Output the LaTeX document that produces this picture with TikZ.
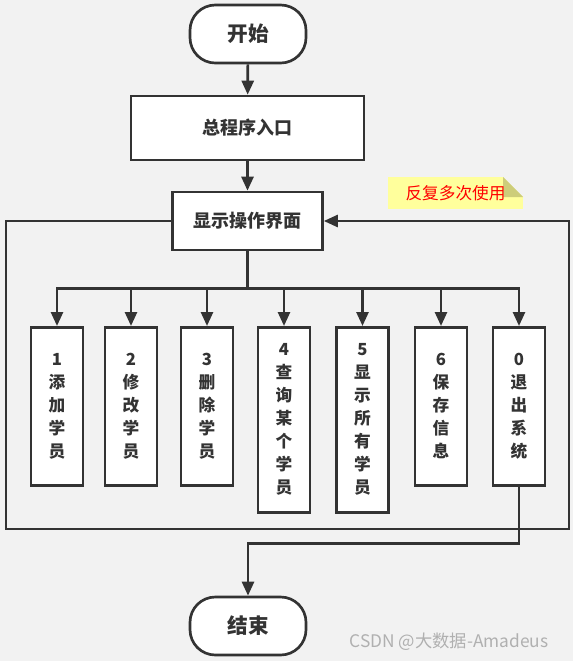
\documentclass[tikz,border=0pt]{standalone}
\usepackage{fontspec}
\setmainfont{Noto Sans CJK SC}
\usepackage{tikz}
\usetikzlibrary{arrows.meta}
\usetikzlibrary{positioning}
\usetikzlibrary{calc}
\definecolor{linegray}{HTML}{333333}
\definecolor{bggray}{HTML}{F2F2F2}
\definecolor{noteyellow}{HTML}{FFFF9C}
\definecolor{notefold}{HTML}{CDCD7A}
\definecolor{markgray}{HTML}{B0B0B0}

\begin{document}
\begin{tikzpicture}[x=0.75pt, y=-0.75pt,
				internal/.style={draw=linegray, fill=white, rectangle, line width=2pt, text=linegray, font=\bfseries\fontsize{13.5}{16}\selectfont},
				terminal/.style={internal, rounded corners=19pt, minimum width=87pt, minimum height=43.5pt, font=\bfseries\fontsize{15.5}{18}\selectfont},
				option/.style={internal, anchor=north, minimum width=39pt, inner sep=2pt, font=\bfseries\fontsize{12.5}{17.25}\selectfont},
				note/.style={fill=noteyellow, minimum width=101.25pt, minimum height=24pt, inner sep=0pt, text=red, font=\fontsize{12.5}{14}\selectfont,
					path picture={\fill[bggray] (path picture bounding box.north east) -- ++(-20,0) -- ++(20,20) -- cycle;
						\fill[notefold] ($(path picture bounding box.north east)+(-20,0)$) -- ++(20,20) -- ++(-20,0) -- cycle;}},
				line/.style={draw=linegray, line width=2pt},
				arr/.style={line, -{Triangle[length=10.5pt, width=9pt]}},
				every text node part/.style={align=center}]
				\fill[bggray] (0,0) rectangle (573,661);
				\useasboundingbox (0,0) rectangle (573,661);
				
				\node[terminal](start) at (248,34) {开始};
				\node[internal, minimum width=174.75pt, minimum height=48pt](prog) at (247.5,128) {总程序入口};
				\node[internal, minimum width=112.5pt, minimum height=43.5pt](menu) at (247.5,221) {显示操作界面};
				\node[note](note) at (455.5,193) {反复多次使用};
				
				\node[option, minimum height=118.5pt](opt1) at (57,326) {1\\添\\加\\学\\员};
				\node[option, minimum height=118.5pt](opt2) at (131,326) {2\\修\\改\\学\\员};
				\node[option, minimum height=118.5pt](opt3) at (207,326) {3\\删\\除\\学\\员};
				\node[option, minimum height=138.75pt](opt4) at (284,326) {4\\查\\询\\某\\个\\学\\员};
				\node[option, minimum height=138.75pt](opt5) at (362.5,326) {5\\显\\示\\所\\有\\学\\员};
				\node[option, minimum height=118.5pt](opt6) at (441,326) {6\\保\\存\\信\\息};
				\node[option, minimum height=118.5pt](opt7) at (519,326) {0\\退\\出\\系\\统};
				
				\node[terminal](end) at (248,626) {结束};
				\node[text=markgray, font=\fontsize{13}{15}\selectfont](mark) at (449,642) {CSDN @大数据-Amadeus};
				
				\draw[arr] (start) -- (prog);
				\draw[arr] (prog) -- (menu);
				\foreach \i in {1,...,7}
					\draw[arr] (menu.south) -- ++(0,37) -| (opt\i.north);
				\draw[arr] (menu.west) -| (6,529) -| (569,221) -- (menu.east);
				\draw[arr] (opt7.south) -- ++(0,57) -| (end.north);
				
			\end{tikzpicture}
\end{document}
